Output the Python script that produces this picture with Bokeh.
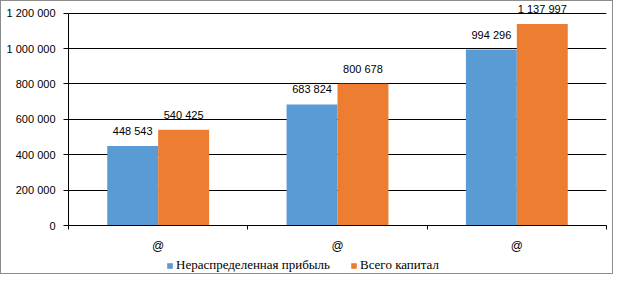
from bokeh.plotting import figure
from bokeh.layouts import column
from bokeh.models import ColumnDataSource, FixedTicker, LabelSet, Legend, LegendItem, Range1d
from bokeh.core.properties import value
from bokeh.embed import file_html
from bokeh.resources import INLINE

categories = ["@", "@", "@"]
retained = [448543, 683824, 994296]
capital = [540425, 800678, 1137997]
y_ticks = [0, 200000, 400000, 600000, 800000, 1000000, 1200000]
y_tick_labels = ["0", "200 000", "400 000", "600 000", "800 000", "1 000 000", "1 200 000"]
series_names = ["Нераспределенная прибыль", "Всего капитал"]
colors = ["#5B9BD5", "#ED7D31"]

BAR_W = 0.284
SANS = "Liberation Sans"
SERIF = "Liberation Serif"
Y_MAX = 1200000

p = figure(width=611, height=254, output_backend="svg", toolbar_location=None,
           x_range=Range1d(0, len(categories)), y_range=Range1d(0, Y_MAX * 1.05),
           min_border_left=67, min_border_right=6, min_border_top=1, min_border_bottom=29)
p.outline_line_color = None
p.background_fill_color = "white"
p.border_fill_color = "white"

for k, (vals, col) in enumerate(zip([retained, capital], colors)):
    xs = [i + 0.5 + (k - 0.5) * BAR_W for i in range(len(categories))]
    src = ColumnDataSource(dict(x=xs, top=vals,
                                label=[f"{v:,}".replace(",", " ") for v in vals]))
    p.vbar(x="x", top="top", width=BAR_W, source=src, fill_color=col, line_color=None)
    p.add_layout(LabelSet(x="x", y="top", text="label", source=src, text_align="center",
                          text_baseline="alphabetic", y_offset=11,
                          text_font=value(SANS), text_font_size="11px", text_color="black"))

# y axis
p.yaxis.ticker = FixedTicker(ticks=y_ticks)
p.yaxis.bounds = (0, Y_MAX)
p.yaxis.major_label_overrides = {t: l for t, l in zip(y_ticks, y_tick_labels)}
p.yaxis.major_tick_out = 5
p.yaxis.major_tick_in = 0
p.yaxis.minor_tick_line_color = None
p.yaxis.major_label_standoff = 8
p.yaxis.major_label_text_font = SANS
p.yaxis.major_label_text_font_size = "11px"
p.yaxis.major_label_text_color = "black"
p.yaxis.axis_line_color = "black"

# x axis
centers = [i + 0.5 for i in range(len(categories))]
p.xaxis.ticker = FixedTicker(ticks=centers, minor_ticks=list(range(len(categories) + 1)))
p.xaxis.major_label_overrides = {c: l for c, l in zip(centers, categories)}
p.xaxis.major_tick_out = 0
p.xaxis.major_tick_in = 0
p.xaxis.minor_tick_out = 4
p.xaxis.minor_tick_in = 0
p.xaxis.minor_tick_line_color = "black"
p.xaxis.major_label_standoff = 9
p.xaxis.major_label_text_font = SANS
p.xaxis.major_label_text_font_size = "12px"
p.xaxis.major_label_text_color = "black"
p.xaxis.axis_line_color = "black"

p.xgrid.visible = False
p.ygrid.ticker = FixedTicker(ticks=y_ticks)
p.ygrid.grid_line_color = "black"
p.ygrid.grid_line_alpha = 1.0

# legend strip (its frame is aligned with the main plot's frame, left edge at 67px)
lg = figure(width=611, height=18, output_backend="svg", toolbar_location=None,
            x_axis_type=None, y_axis_type=None,
            x_range=Range1d(0, 1), y_range=Range1d(0, 1),
            min_border_left=0, min_border_right=0, min_border_top=0, min_border_bottom=0)
lg.grid.visible = False
lg.outline_line_color = None
lg.border_fill_color = "white"
lg.background_fill_color = "white"
# zero-size proxy glyphs that only carry the legend colours
proxies = [lg.vbar(x=[0], top=[0], bottom=[0], width=0, fill_color=c, line_color=None)
           for c in colors]
legend = Legend(items=[LegendItem(label=n, renderers=[r]) for n, r in zip(series_names, proxies)],
                orientation="horizontal", location=(98, 0),
                label_text_font=SERIF, label_text_font_size="13px", label_text_color="black",
                glyph_width=7, glyph_height=7, label_standoff=3, spacing=20,
                margin=0, padding=2, label_height=14, border_line_color=None,
                background_fill_alpha=0)
lg.add_layout(legend, "center")

layout = column(p, lg, spacing=0)
layout.styles = {"border": "1px solid #8c8c8c"}

open("out.html", "w").write(file_html(layout, INLINE))
